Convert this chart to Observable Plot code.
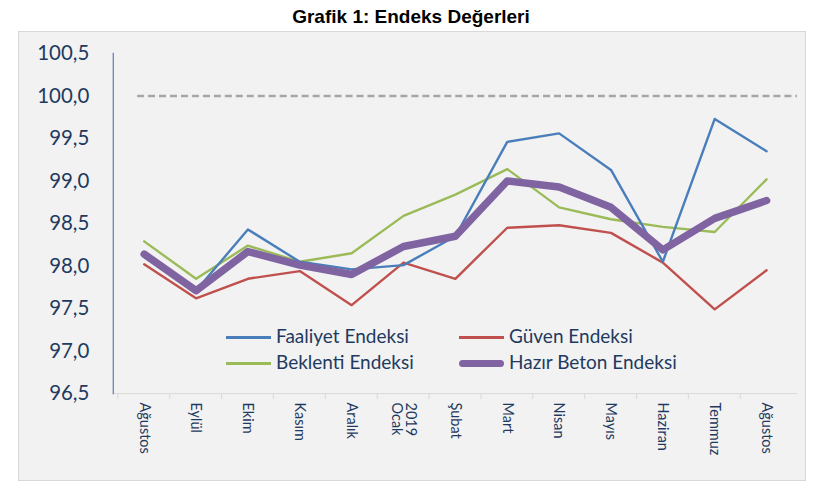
<!DOCTYPE html>
<html>
<head>
<meta charset="utf-8">
<script src="https://cdn.jsdelivr.net/npm/d3@7"></script>
<script src="https://cdn.jsdelivr.net/npm/@observablehq/plot@0.6"></script>
<style>
  body { margin: 0; background: #ffffff; width: 825px; height: 495px; position: relative; overflow: hidden; }
  #title { position: absolute; left: 0; top: 6px; width: 822px; text-align: center;
           font: bold 19px "Liberation Sans Narrow", "Arial Narrow", "Liberation Sans", sans-serif; color: #000; }
  #box { position: absolute; left: 18px; top: 31px; width: 788px; height: 450px;
         background: #f2f2f2; border: 1px solid #d9d9d9; box-sizing: border-box; }
  #box svg { position: absolute; left: -1px; top: -1px; }
  .leg { position: absolute; font: 19px Lato, "Open Sans", sans-serif; color: #1f3a5f; white-space: nowrap; }
  .sw { position: absolute; }
</style>
</head>
<body>
<div id="title">Grafik 1: Endeks Değerleri</div>
<div id="box"></div>
<div id="legend"></div>
<script>
// ---- data ----
const months = ["Ağustos","Eylül","Ekim","Kasım","Aralık","2019\nOcak","Şubat","Mart","Nisan","Mayıs","Haziran","Temmuz","Ağustos"];
const faaliyet = [98.11, 97.71, 98.43, 98.05, 97.96, 98.01, 98.35, 99.46, 99.56, 99.13, 98.05, 99.73, 99.35];
const guven    = [98.02, 97.62, 97.85, 97.94, 97.54, 98.04, 97.85, 98.45, 98.48, 98.39, 98.04, 97.49, 97.95];
const beklenti = [98.29, 97.85, 98.24, 98.05, 98.15, 98.59, 98.84, 99.14, 98.69, 98.55, 98.46, 98.40, 99.02];
const hazirBeton = [98.14, 97.71, 98.17, 98.01, 97.90, 98.23, 98.35, 99.00, 98.93, 98.69, 98.19, 98.56, 98.77];
const yTicks = [96.5, 97.0, 97.5, 98.0, 98.5, 99.0, 99.5, 100.0, 100.5];
const reference = [100];
const seriesNames = ["Faaliyet Endeksi", "Güven Endeksi", "Beklenti Endeksi", "Hazır Beton Endeksi"];
const colors = ["#4a7ebb", "#c0504d", "#9bbb59", "#8064a2"];

const W = 788, H = 450, mL = 95, mR = 7, mT = 22, mB = 87;
const bw = (W - mL - mR) / months.length;
const idx = months.map((_, i) => i);
const rows = arr => arr.map((v, i) => ({i, v}));
const txt = "#1f3a5f";
const font = "Lato, 'Open Sans', sans-serif";

const chart = Plot.plot({
  width: W, height: H,
  marginLeft: mL, marginRight: mR, marginTop: mT, marginBottom: mB,
  style: {background: "transparent", overflow: "visible"},
  x: {type: "band", domain: idx, padding: 0},
  y: {domain: [96.5, 100.5]},
  marks: [
    Plot.ruleY([96.5], {stroke: "#d9d9d9", strokeWidth: 1}),
    Plot.axisX({tickSize: 6, tickFormat: null, label: null, stroke: "#d9d9d9", dx: -bw / 2}),
    Plot.axisX({tickSize: 0, tickRotate: 90, tickPadding: 9, fontSize: 14.5, fill: txt, label: null,
                fontFamily: font, tickFormat: i => months[i]}),
    Plot.axisY({ticks: yTicks, tickSize: 0, tickPadding: 24, fontSize: 20.5, fill: txt, label: null,
                fontFamily: font,
                tickFormat: d => d.toFixed(1).replace(".", ",")}),
    Plot.frame({anchor: "left", stroke: "#5a7bb0", strokeWidth: 1.2}),
    Plot.ruleY(reference, {stroke: "#a6a6a6", strokeWidth: 2.6, strokeDasharray: "7,4", insetLeft: bw / 2 - 2}),
    Plot.line(rows(beklenti), {x: "i", y: "v", stroke: colors[2], strokeWidth: 2.4}),
    Plot.line(rows(guven), {x: "i", y: "v", stroke: colors[1], strokeWidth: 2.4}),
    Plot.line(rows(faaliyet), {x: "i", y: "v", stroke: colors[0], strokeWidth: 2.4}),
    Plot.line(rows(hazirBeton), {x: "i", y: "v", stroke: colors[3], strokeWidth: 7.5,
                                 strokeLinecap: "round", strokeLinejoin: "round"})
  ]
});
document.getElementById("box").appendChild(chart);

// legend (HTML overlay)
const legendPos = [[226, 337], [459, 337], [226, 363], [459, 363]];
const legend = document.getElementById("legend");
seriesNames.forEach((name, k) => {
  const [lx, ly] = legendPos[k];
  const thick = k === 3;
  const sw = document.createElement("div");
  sw.className = "sw";
  const h = thick ? 7 : 3;
  Object.assign(sw.style, {left: lx + "px", top: (ly - h / 2) + "px", width: "45px", height: h + "px",
    background: colors[k], borderRadius: thick ? "4px" : "0"});
  legend.appendChild(sw);
  const t = document.createElement("div");
  t.className = "leg";
  t.textContent = name;
  Object.assign(t.style, {left: (lx + 50) + "px", top: (ly - 13) + "px"});
  legend.appendChild(t);
});
</script>
</body>
</html>
